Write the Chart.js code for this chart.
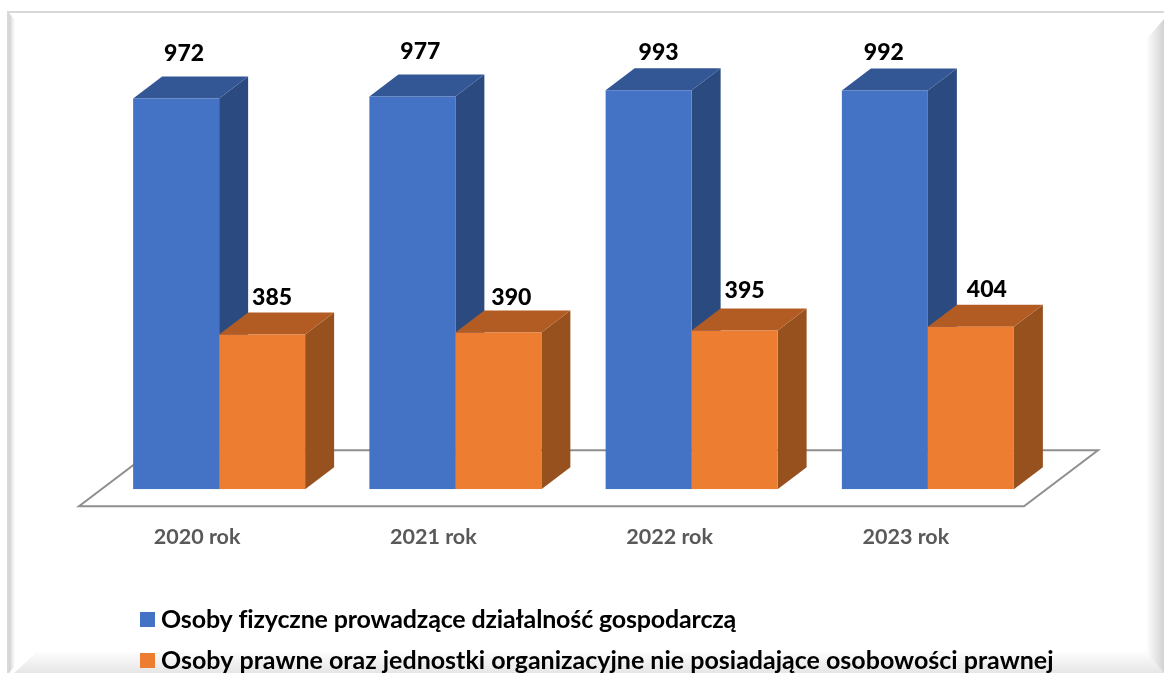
<!DOCTYPE html>
<html lang="pl">
<head>
<meta charset="utf-8">
<style>html,body{margin:0;padding:0;background:#fff;overflow:hidden}canvas{display:block}</style>
<script src="https://cdn.jsdelivr.net/npm/chart.js@4"></script>
</head>
<body>
<canvas id="c" width="1164" height="673"></canvas>
<script>
const categories = ["2020 rok", "2021 rok", "2022 rok", "2023 rok"];
const fizyczne = [972, 977, 993, 992];
const prawne = [385, 390, 395, 404];
const seriesNames = [
  "Osoby fizyczne prowadzące działalność gospodarczą",
  "Osoby prawne oraz jednostki organizacyjne nie posiadające osobowości prawnej"
];
const frontColors = ["#4472c4", "#ed7d31"];
const sideColors = ["#2b4a80", "#96511f"];
const topColors = ["#335694", "#b25c24"];
const FONT = "Lato";
const DEPTH_X = 29, DEPTH_Y = 22;
// hand-placed label nudges of the original, per series and category
const labelDx = [[8, 8, 10, -1], [10, 13, 10, 16]];
const labelDy = [[0, 0, 7, 7], [0, 2, -3, 0]];

function poly(ctx, pts, fill) {
  ctx.beginPath();
  pts.forEach((p, i) => i ? ctx.lineTo(p[0], p[1]) : ctx.moveTo(p[0], p[1]));
  ctx.closePath();
  ctx.fillStyle = fill;
  ctx.fill();
}

const frame = {
  id: "frame",
  beforeDraw(chart) {
    const ctx = chart.ctx, W = 1164, H = 673;
    ctx.save();
    let g = ctx.createLinearGradient(0, 650, 0, H);
    g.addColorStop(0, "#ffffff"); g.addColorStop(1, "#e6e6e6");
    poly(ctx, [[14, H], [37, 652], [1148, 652], [1164, H]], g);
    g = ctx.createLinearGradient(1146, 0, W, 0);
    g.addColorStop(0, "#ffffff"); g.addColorStop(1, "#d2d2d2");
    poly(ctx, [[W, 19], [1146, 40], [1146, 652], [W, H]], g);
    g = ctx.createLinearGradient(9, 0, 15, 0);
    g.addColorStop(0, "#d0d0d0"); g.addColorStop(1, "#ffffff");
    poly(ctx, [[9, 13], [15, 20], [15, 666], [9, H]], g);
    ctx.fillStyle = "#d9d9d9";
    ctx.fillRect(7, 11, W - 7, 2);
    ctx.fillRect(7, 11, 2, H - 11);
    ctx.restore();
  }
};

const depth3d = {
  id: "depth3d",
  beforeDatasetsDraw(chart) {
    const ctx = chart.ctx, a = chart.chartArea, y0 = chart.scales.y.getPixelForValue(0);
    ctx.save();
    // floor of the 3D plot
    const fy = y0 + 17, by = y0 - 39;
    const corners = [[a.left - 22, fy], [a.right - 22, fy], [a.right + 52, by], [a.left + 52, by]];
    ctx.beginPath();
    corners.forEach((p, i) => i ? ctx.lineTo(p[0], p[1]) : ctx.moveTo(p[0], p[1]));
    ctx.closePath();
    ctx.strokeStyle = "#8f8f8f";
    ctx.lineWidth = 2;
    ctx.stroke();
    // side and top faces, from the library's bar elements
    chart.data.datasets.forEach((ds, d) => {
      chart.getDatasetMeta(d).data.forEach(bar => {
        const p = bar.getProps(["x", "y", "base", "width"], true);
        const l = p.x - p.width / 2, r = p.x + p.width / 2;
        poly(ctx, [[r, p.y], [r + DEPTH_X, p.y - DEPTH_Y], [r + DEPTH_X, p.base - DEPTH_Y], [r, p.base]], sideColors[d]);
        poly(ctx, [[l, p.y], [l + DEPTH_X, p.y - DEPTH_Y], [r + DEPTH_X, p.y - DEPTH_Y], [r, p.y]], topColors[d]);
      });
    });
    ctx.restore();
  },
  afterDatasetsDraw(chart) {
    const ctx = chart.ctx;
    ctx.save();
    ctx.font = "900 23px " + FONT;
    ctx.fillStyle = "#000";
    ctx.textAlign = "center";
    ctx.textBaseline = "middle";
    chart.data.datasets.forEach((ds, d) => {
      chart.getDatasetMeta(d).data.forEach((bar, i) => {
        const p = bar.getProps(["x", "y"], true);
        ctx.fillText(String(ds.data[i]), p.x + labelDx[d][i], p.y - 45 + (d ? 8 : 0) + labelDy[d][i]);
      });
    });
    // legend rows
    ctx.textAlign = "left";
    ctx.font = "bold 25px " + FONT;
    const rowY = [620, 661];
    const rowSpacing = ["-0.16px", "0px"];
    chart.data.datasets.forEach((ds, d) => {
      ctx.fillStyle = ds.backgroundColor;
      ctx.fillRect(140, rowY[d] - 8, 15, 15);
      ctx.fillStyle = "#000";
      ctx.letterSpacing = rowSpacing[d];
      ctx.fillText(ds.label, 161, rowY[d]);
    });
    ctx.restore();
  }
};

new Chart(document.getElementById("c"), {
  type: "bar",
  data: {
    labels: categories,
    datasets: [
      { label: seriesNames[0], data: fizyczne, backgroundColor: frontColors[0], borderWidth: 0 },
      { label: seriesNames[1], data: prawne, backgroundColor: frontColors[1], borderWidth: 0 }
    ]
  },
  options: {
    responsive: false,
    animation: false,
    layout: { padding: { left: 101, right: 118, top: 7, bottom: 88 } },
    plugins: { legend: { display: false }, tooltip: { enabled: false } },
    datasets: { bar: { barPercentage: 1, categoryPercentage: 0.728 } },
    scales: {
      y: { display: false, min: 0, max: 1200 },
      x: {
        grid: { display: false, drawTicks: false },
        border: { display: false },
        ticks: {
          color: "#595959",
          font: { family: FONT, size: 21.5, weight: "bold" },
          padding: 35,
          labelOffset: -22,
          maxRotation: 0
        }
      }
    }
  },
  plugins: [frame, depth3d]
});
</script>
</body>
</html>
